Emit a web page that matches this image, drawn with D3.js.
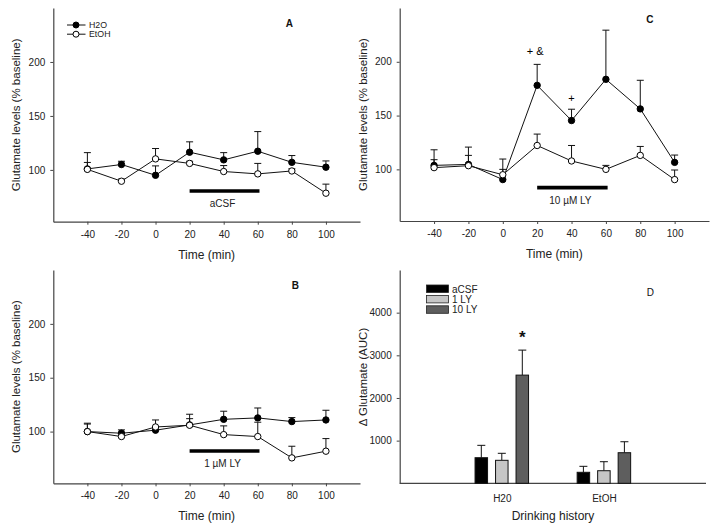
<!DOCTYPE html>
<html>
<head>
<meta charset="utf-8">
<script src="https://cdn.jsdelivr.net/npm/d3@7"></script>
<style>
  body { margin: 0; background: #fff; }
  svg { display: block; font-family: "Liberation Sans", Arial, sans-serif; }
</style>
</head>
<body>
<svg id="chart" width="714" height="532"></svg>
<script>
// ---------------- DATA ----------------
const times = [-40, -20, 0, 20, 40, 60, 80, 100];
const xTickLabels = [-40, -20, 0, 20, 40, 60, 80, 100];
const yTickLabels = [100, 150, 200];

// Panel A (aCSF)
const aH2O = [100.9, 105, 95, 116.4, 109.3, 117.3, 107, 102.5];
const aH2OErr = [6, 3, 8.7, 9.6, 6.7, 18.2, 6.3, 5.8];
const aEtOH = [100.5, 89.5, 110.2, 106, 98.5, 96.3, 99, 78.4];
const aEtOHErr = [15.5, 2, 9.6, 2, 5.5, 9.7, 2, 8.4];

// Panel B (1 µM LY)
const bH2O = [100, 98.5, 101.3, 106.2, 111.4, 112.7, 109.3, 110.8];
const bH2OErr = [7.8, 3.1, 2, 9.9, 7.5, 9.2, 3.7, 9];
const bEtOH = [100, 95.4, 104.3, 105.9, 97.2, 95.4, 75.6, 81.8];
const bEtOHErr = [7, 2, 6.5, 6.1, 8.1, 13.3, 10.8, 11.7];

// Panel C (10 µM LY)
const cH2O = [103.7, 104.6, 90.5, 178.1, 145.4, 183.7, 156.2, 106.5];
const cH2OErr = [5.3, 8.4, 9.5, 19.5, 10.5, 45.7, 26.6, 6.8];
const cEtOH = [101.6, 103.4, 95, 122.2, 107.8, 100, 113, 90.5];
const cEtOHErr = [16.6, 17.3, 14.6, 10.6, 14.4, 3.7, 8.3, 8.9];

// Treatment window
const treatment = [20, 61];

// Panel D (AUC)
const groups = ["H20", "EtOH"];
const treatments = ["aCSF", "1 LY", "10 LY"];
const dH20 = [600, 539, 2536];
const dH20Err = [290, 164, 586];
const dEtOH = [258, 295, 717];
const dEtOHErr = [140, 211, 257];
const dTicks = [1000, 2000, 3000, 4000];
const barColors = ["#000000", "#c6c6c6", "#5e5e5e"];

// ---------------- DRAW ----------------
const svg = d3.select("#chart");
svg.append("rect").attr("width", 714).attr("height", 532).attr("fill", "#fff");
const axisColor = "#444";

function styleAxis(g) {
  g.selectAll("path").attr("stroke", axisColor).attr("stroke-width", 1.2);
  g.selectAll("line").attr("stroke", axisColor);
  g.selectAll("text").attr("fill", "#222").style("font-size", "10px")
    .style("font-family", "'Liberation Sans', Arial, sans-serif");
}

function linePanel(opt) {
  const x = d3.scaleLinear().domain([-60, 120]).range([opt.left, opt.right]);
  const y = d3.scaleLinear().domain([52, 250]).range([opt.bottom, opt.top]);

  // axes
  const gx = svg.append("g").attr("transform", `translate(0,${opt.bottom})`)
    .call(d3.axisBottom(x).tickValues(xTickLabels).tickFormat(d => String(d)).tickSize(3).tickSizeOuter(0).tickPadding(6));
  styleAxis(gx);
  const gy = svg.append("g").attr("transform", `translate(${opt.left},0)`)
    .call(d3.axisLeft(y).tickValues(yTickLabels).tickFormat(d => String(d)).tickSize(3).tickSizeOuter(0).tickPadding(5));
  styleAxis(gy);

  // titles
  svg.append("text").attr("x", (opt.left + opt.right) / 2).attr("y", opt.bottom + 37)
    .attr("text-anchor", "middle").style("font-size", "12px").attr("fill", "#222").text("Time (min)");
  svg.append("text").attr("transform", `translate(${opt.left - 33},${(opt.top + opt.bottom) / 2}) rotate(-90)`)
    .attr("text-anchor", "middle").style("font-size", "11.5px").attr("fill", "#222")
    .text("Glutamate levels (% baseline)");

  const series = [
    { v: opt.h2o, e: opt.h2oErr, fill: "#000" },
    { v: opt.etoh, e: opt.etohErr, fill: "#fff" }
  ];
  const line = d3.line().x((d, i) => x(times[i])).y(d => y(d));

  series.forEach(s => {
    const g = svg.append("g").attr("stroke", "#111").attr("stroke-width", 1);
    times.forEach((t, i) => {
      const top = s.v[i] + s.e[i];
      g.append("line").attr("x1", x(t)).attr("x2", x(t)).attr("y1", y(s.v[i])).attr("y2", y(top));
      g.append("line").attr("x1", x(t) - 3.5).attr("x2", x(t) + 3.5).attr("y1", y(top)).attr("y2", y(top));
    });
  });
  series.forEach(s => {
    svg.append("path").datum(s.v).attr("d", line).attr("fill", "none").attr("stroke", "#111").attr("stroke-width", 1);
  });
  series.forEach(s => {
    svg.append("g").selectAll("circle").data(s.v).join("circle")
      .attr("cx", (d, i) => x(times[i])).attr("cy", d => y(d)).attr("r", 3.2)
      .attr("fill", s.fill).attr("stroke", "#000").attr("stroke-width", 1);
  });

  // treatment bar
  svg.append("line").attr("x1", x(treatment[0])).attr("x2", x(treatment[1]))
    .attr("y1", y(opt.barLevel)).attr("y2", y(opt.barLevel))
    .attr("stroke", "#000").attr("stroke-width", 3.6);
  svg.append("text").attr("x", (x(treatment[0]) + x(treatment[1])) / 2 - 2).attr("y", y(opt.barLevel) + 16)
    .attr("text-anchor", "middle").style("font-size", "10px").attr("fill", "#222").text(opt.barLabel);

  // panel letter
  svg.append("text").attr("x", x(opt.letterX)).attr("y", y(opt.letterY))
    .attr("text-anchor", "middle").style("font-size", "10px").style("font-weight", "bold").attr("fill", "#111").text(opt.letter);

  return { x, y };
}

const A = linePanel({ left: 53.3, right: 360, top: 8, bottom: 221.7, h2o: aH2O, h2oErr: aH2OErr, etoh: aEtOH, etohErr: aEtOHErr,
  barLevel: 80.5, barLabel: "aCSF", letter: "A", letterX: 78.5, letterY: 232 });
const C = linePanel({ left: 399.7, right: 709, top: 8, bottom: 221, h2o: cH2O, h2oErr: cH2OErr, etoh: cEtOH, etohErr: cEtOHErr,
  barLevel: 83, barLabel: "10 µM LY", letter: "C", letterX: 85.6, letterY: 236 });
const B = linePanel({ left: 53.3, right: 360, top: 270, bottom: 483.3, h2o: bH2O, h2oErr: bH2OErr, etoh: bEtOH, etohErr: bEtOHErr,
  barLevel: 82, barLabel: "1 µM LY", letter: "B", letterX: 82, letterY: 232 });

// Significance marks panel C
svg.append("text").attr("x", C.x(20) - 2).attr("y", C.y(206)).attr("text-anchor", "middle")
  .style("font-size", "11px").attr("fill", "#000").text("+ &");
svg.append("text").attr("x", C.x(40)).attr("y", C.y(163)).attr("text-anchor", "middle")
  .style("font-size", "11px").attr("fill", "#000").text("+");

// Legend panel A
const legend = [{ name: "H2O", fill: "#000" }, { name: "EtOH", fill: "#fff" }];
legend.forEach((l, i) => {
  const ly = 25 + i * 9.2;
  svg.append("line").attr("x1", 67).attr("x2", 85.5).attr("y1", ly).attr("y2", ly).attr("stroke", "#111");
  svg.append("circle").attr("cx", 76).attr("cy", ly).attr("r", 3).attr("fill", l.fill).attr("stroke", "#000");
  svg.append("text").attr("x", 89).attr("y", ly + 3).style("font-size", "8.8px").attr("fill", "#222").text(l.name);
});

// ---------------- Panel D ----------------
const dLeft = 399.7, dRight = 706, dTop = 270, dBottom = 483.3;
const xd = d3.scalePoint().domain(groups).range([dLeft, dRight]).padding(1);
const xsub = d3.scaleBand().domain(treatments).range([-26.75, 26.75]).paddingInner(0.39).paddingOuter(0);
const yd = d3.scaleLinear().domain([0, 5000]).range([dBottom, dTop]);

const gxd = svg.append("g").attr("transform", `translate(0,${dBottom})`)
  .call(d3.axisBottom(xd).tickSize(0).tickPadding(12));
styleAxis(gxd);
gxd.select("path").attr("d", `M${dLeft},0H${dRight}`);
const gyd = svg.append("g").attr("transform", `translate(${dLeft},0)`)
  .call(d3.axisLeft(yd).tickValues(dTicks).tickFormat(d => String(d)).tickSize(3).tickSizeOuter(0).tickPadding(5));
styleAxis(gyd);

svg.append("text").attr("x", 553).attr("y", dBottom + 37).attr("text-anchor", "middle")
  .style("font-size", "12px").attr("fill", "#222").text("Drinking history");
svg.append("text").attr("transform", `translate(${dLeft - 33},${377}) rotate(-90)`)
  .attr("text-anchor", "middle").style("font-size", "11.5px").attr("fill", "#222").text("Δ Glutamate (AUC)");

const dData = [
  { g: "H20", v: dH20, e: dH20Err },
  { g: "EtOH", v: dEtOH, e: dEtOHErr }
];
dData.forEach(grp => {
  treatments.forEach((t, i) => {
    const cx = xd(grp.g) + xsub(t);
    const w = xsub.bandwidth();
    const top = grp.v[i] + grp.e[i];
    const mid = cx + w / 2;
    svg.append("line").attr("x1", mid).attr("x2", mid).attr("y1", yd(grp.v[i])).attr("y2", yd(top)).attr("stroke", "#111");
    svg.append("line").attr("x1", mid - 4).attr("x2", mid + 4).attr("y1", yd(top)).attr("y2", yd(top)).attr("stroke", "#111");
    svg.append("rect").attr("x", cx).attr("y", yd(grp.v[i])).attr("width", w).attr("height", yd(0) - yd(grp.v[i]))
      .attr("fill", barColors[i]).attr("stroke", "#111").attr("stroke-width", 1);
  });
});

// star
svg.append("text").attr("x", xd("H20") + xsub("10 LY") + xsub.bandwidth() / 2).attr("y", yd(3300))
  .attr("text-anchor", "middle").style("font-size", "17px").style("font-weight", "bold").attr("fill", "#111").text("*");

// legend D
treatments.forEach((t, i) => {
  const ly = 285 + i * 10.4;
  svg.append("rect").attr("x", 426.5).attr("y", ly).attr("width", 22).attr("height", 7.5)
    .attr("fill", barColors[i]).attr("stroke", "#222").attr("stroke-width", 0.8);
  svg.append("text").attr("x", 452).attr("y", ly + 7.5).style("font-size", "10px").attr("fill", "#222").text(t);
});
svg.append("text").attr("x", 650.3).attr("y", 295.5).attr("text-anchor", "middle")
  .style("font-size", "10px").attr("fill", "#111").text("D");
</script>
</body>
</html>
